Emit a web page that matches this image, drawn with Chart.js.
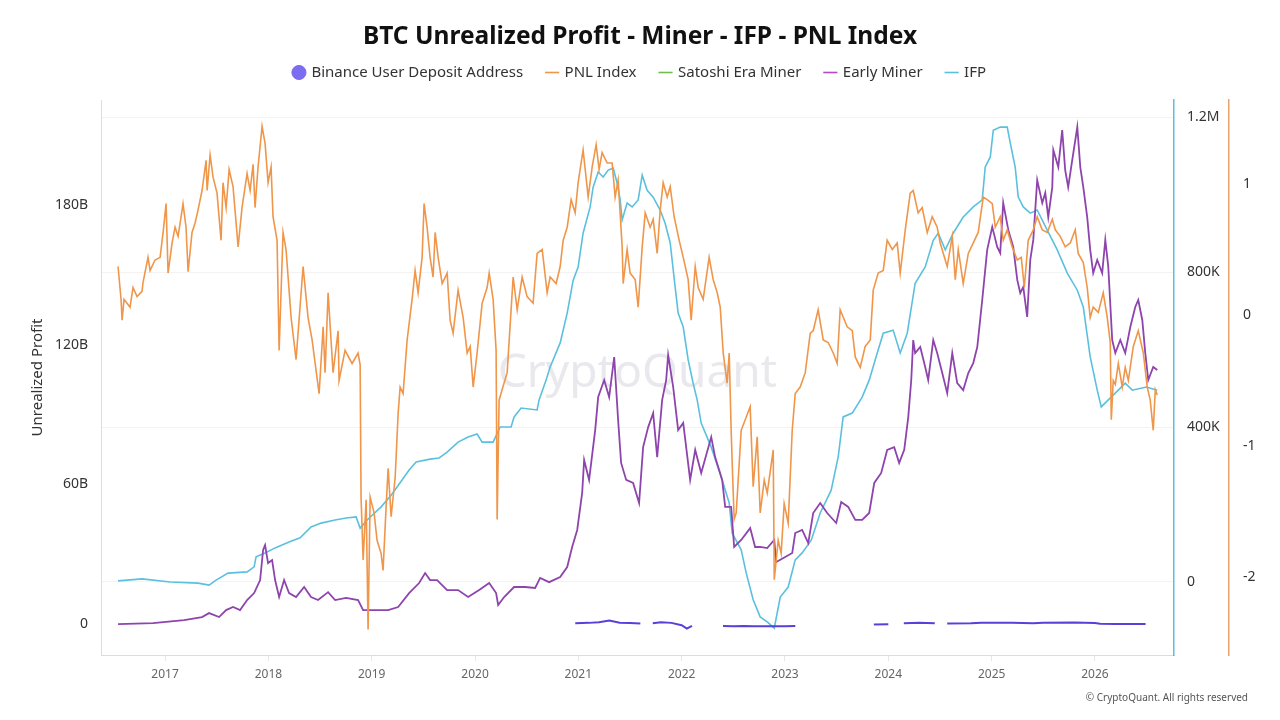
<!DOCTYPE html>
<html><head><meta charset="utf-8">
<script src="https://cdn.jsdelivr.net/npm/chart.js@4.4.1/dist/chart.umd.min.js"></script>
<style>html,body{margin:0;padding:0;background:#fff;}#wrap{width:1280px;height:720px;}</style>
</head><body><div id="wrap"><canvas id="c" width="1280" height="720"></canvas></div>
<script>
// ---- tick labels / categories ----
const yearTicks = [2017,2018,2019,2020,2021,2022,2023,2024,2025,2026];
const leftTicks = [0,60,120,180];          // billions
const ifpTicks = [0,400,800,1200];         // thousands
const pnlTicks = [-2,-1,0,1];
const seriesNames = ['Binance User Deposit Address','PNL Index','Satoshi Era Miner','Early Miner','IFP'];

// ---- PNL Index (right axis) ----
const pnlYears = [2016.545,2016.574,2016.584,2016.603,2016.661,2016.69,2016.729,2016.777,2016.787,2016.835,
2016.855,2016.903,2016.952,2016.981,2017.01,2017.029,2017.068,2017.097,2017.126,2017.165,
2017.174,2017.203,2017.223,2017.261,2017.29,2017.319,2017.358,2017.397,2017.407,2017.436,
2017.465,2017.503,2017.542,2017.561,2017.591,2017.62,2017.658,2017.707,2017.745,2017.794,
2017.823,2017.852,2017.871,2017.9,2017.939,2017.968,2017.997,2018.026,2018.045,2018.084,
2018.104,2018.142,2018.171,2018.22,2018.268,2018.336,2018.384,2018.423,2018.491,2018.53,
2018.549,2018.578,2018.626,2018.675,2018.684,2018.742,2018.81,2018.868,2018.888,2018.897,
2018.917,2018.946,2018.965,2018.985,2019.023,2019.052,2019.091,2019.11,2019.139,2019.159,
2019.188,2019.227,2019.256,2019.275,2019.304,2019.343,2019.391,2019.42,2019.449,2019.488,
2019.507,2019.536,2019.565,2019.594,2019.614,2019.643,2019.682,2019.73,2019.759,2019.788,
2019.836,2019.885,2019.924,2019.953,2019.982,2020.02,2020.069,2020.117,2020.137,2020.175,
2020.204,2020.214,2020.233,2020.262,2020.311,2020.369,2020.408,2020.456,2020.504,2020.562,
2020.601,2020.65,2020.698,2020.727,2020.785,2020.824,2020.853,2020.892,2020.93,2020.969,
2020.998,2021.046,2021.095,2021.134,2021.172,2021.201,2021.23,2021.279,2021.327,2021.356,
2021.385,2021.424,2021.434,2021.472,2021.501,2021.55,2021.579,2021.618,2021.647,2021.695,
2021.724,2021.763,2021.792,2021.821,2021.86,2021.889,2021.927,2021.976,2022.015,2022.063,
2022.092,2022.131,2022.16,2022.208,2022.266,2022.305,2022.344,2022.373,2022.402,2022.44,
2022.46,2022.479,2022.489,2022.508,2022.528,2022.576,2022.615,2022.663,2022.692,2022.731,
2022.76,2022.799,2022.828,2022.886,2022.896,2022.934,2022.963,2022.992,2023.031,2023.07,
2023.099,2023.147,2023.196,2023.244,2023.273,2023.321,2023.37,2023.418,2023.467,2023.505,
2023.534,2023.602,2023.651,2023.68,2023.728,2023.776,2023.825,2023.854,2023.902,2023.951,
2023.989,2024.038,2024.086,2024.115,2024.164,2024.212,2024.241,2024.289,2024.328,2024.377,
2024.425,2024.473,2024.502,2024.57,2024.619,2024.648,2024.677,2024.725,2024.774,2024.822,
2024.87,2024.919,2024.957,2025.006,2025.035,2025.083,2025.112,2025.151,2025.199,2025.248,
2025.287,2025.316,2025.354,2025.403,2025.441,2025.49,2025.538,2025.587,2025.616,2025.664,
2025.712,2025.761,2025.809,2025.838,2025.887,2025.925,2025.954,2025.983,2026.032,2026.08,
2026.119,2026.148,2026.158,2026.177,2026.197,2026.226,2026.264,2026.293,2026.323,2026.371,
2026.419,2026.468,2026.506,2026.535,2026.564,2026.584,2026.603];
const pnlValues = [0.37,0.12,-0.04,0.12,0.06,0.21,0.14,0.18,0.25,0.44,
0.34,0.42,0.44,0.63,0.85,0.32,0.55,0.67,0.6,0.8,
0.85,0.67,0.33,0.63,0.7,0.8,0.95,1.18,0.95,1.22,
1.05,0.93,0.57,1.01,0.82,1.11,0.98,0.52,0.82,1.08,
0.95,1.15,0.82,1.13,1.44,1.31,1.01,1.13,0.75,0.57,
-0.27,0.63,0.5,-0.02,-0.34,0.37,-0.02,-0.19,-0.6,-0.09,
-0.44,0.17,-0.44,-0.12,-0.5,-0.27,-0.37,-0.29,-0.38,-1.39,
-1.87,-1.41,-2.4,-1.39,-1.51,-1.72,-1.82,-1.95,-1.47,-1.17,
-1.54,-1.24,-0.75,-0.55,-0.6,-0.19,0.12,0.34,0.17,0.44,
0.85,0.67,0.44,0.29,0.63,0.44,0.24,0.32,-0.04,-0.14,
0.19,-0.02,-0.29,-0.24,-0.55,-0.29,0.09,0.21,0.32,0.12,
-0.27,-1.56,-0.65,-0.57,-0.44,0.29,0.04,0.29,0.14,0.09,
0.47,0.5,0.17,0.29,0.24,0.37,0.57,0.67,0.88,0.78,
1.01,1.26,0.9,1.13,1.3,1.11,1.24,1.16,1.16,0.9,
1.03,0.52,0.24,0.5,0.32,0.27,0.06,0.52,0.78,0.67,
0.73,0.47,0.8,1.01,0.9,0.98,0.75,0.57,0.44,0.27,
-0.04,0.37,0.21,0.12,0.44,0.27,0.17,0.06,-0.29,-0.52,
-0.29,-0.88,-1.13,-1.56,-1.51,-0.88,-0.8,-0.7,-1.31,-0.93,
-1.51,-1.26,-1.36,-1.03,-2.02,-1.72,-1.82,-1.44,-1.59,-0.88,
-0.6,-0.55,-0.44,-0.14,-0.12,0.04,-0.19,-0.21,-0.29,-0.37,
0.04,-0.09,-0.12,-0.32,-0.4,-0.24,-0.19,0.19,0.32,0.34,
0.57,0.5,0.55,0.32,0.65,0.93,0.95,0.78,0.82,0.63,
0.75,0.67,0.55,0.37,0.6,0.27,0.5,0.24,0.47,0.55,
0.63,0.9,0.88,0.85,0.67,0.75,0.57,0.65,0.52,0.42,
0.44,0.21,0.57,0.65,0.75,0.65,0.63,0.73,0.65,0.6,
0.52,0.55,0.65,0.47,0.4,0.21,-0.02,0.06,0.02,0.17,
-0.02,-0.21,-0.8,-0.5,-0.53,-0.37,-0.55,-0.4,-0.5,-0.24,
-0.12,-0.29,-0.55,-0.65,-0.88,-0.57,-0.61];

// ---- IFP (thousands, right axis) ----
const ifpYears = [2016.545,2016.777,2017.048,2017.319,2017.426,2017.494,2017.61,2017.794,2017.862,2017.881,
2017.968,2018.065,2018.2,2018.307,2018.413,2018.51,2018.646,2018.752,2018.849,2018.888,
2018.956,2019.091,2019.188,2019.294,2019.362,2019.43,2019.565,2019.652,2019.73,2019.836,
2019.933,2020.02,2020.069,2020.175,2020.243,2020.349,2020.378,2020.446,2020.601,2020.62,
2020.688,2020.727,2020.824,2020.892,2020.95,2020.998,2021.046,2021.114,2021.143,2021.192,
2021.24,2021.289,2021.337,2021.376,2021.405,2021.424,2021.472,2021.521,2021.579,2021.618,
2021.666,2021.724,2021.792,2021.84,2021.889,2021.937,2021.966,2022.015,2022.063,2022.111,
2022.15,2022.189,2022.286,2022.392,2022.46,2022.489,2022.576,2022.625,2022.692,2022.76,
2022.828,2022.896,2022.954,2023.031,2023.099,2023.166,2023.254,2023.341,2023.447,2023.515,
2023.563,2023.651,2023.747,2023.815,2023.893,2023.951,2024.047,2024.115,2024.183,2024.26,
2024.357,2024.435,2024.483,2024.551,2024.628,2024.725,2024.822,2024.909,2024.938,2024.987,
2025.016,2025.083,2025.151,2025.18,2025.228,2025.257,2025.306,2025.374,2025.441,2025.538,
2025.635,2025.732,2025.829,2025.887,2025.954,2026.022,2026.061,2026.129,2026.226,2026.293,
2026.361,2026.497,2026.603];
const ifpValues = [3,8,0,-3,-8,5,23,26,39,65,
75,88,103,114,142,152,160,165,168,139,
160,194,224,263,289,310,317,320,335,361,
374,382,361,361,400,400,426,449,444,470,
521,555,617,694,779,813,900,968,1019,1058,
1045,1063,1068,1029,986,934,978,968,986,1050,
1011,993,960,926,875,761,694,658,573,513,
470,410,348,263,204,126,83,23,-46,-90,
-103,-119,-39,-13,57,75,108,178,237,323,
426,436,477,521,591,642,650,591,642,771,
813,882,900,857,900,942,968,986,1071,1097,
1166,1174,1174,1133,1071,994,968,952,960,908,
857,797,753,710,581,495,452,470,495,513,
495,503,495];

// ---- Early Miner (billions, left axis) ----
const minerYears = [2016.545,2016.884,2017.184,2017.358,2017.426,2017.523,2017.591,2017.658,2017.726,2017.794,
2017.862,2017.92,2017.949,2017.968,2017.997,2018.036,2018.065,2018.104,2018.152,2018.2,
2018.268,2018.346,2018.413,2018.481,2018.578,2018.646,2018.752,2018.868,2018.917,2019.023,
2019.159,2019.256,2019.362,2019.459,2019.517,2019.565,2019.633,2019.73,2019.836,2019.933,
2020.04,2020.137,2020.204,2020.224,2020.282,2020.378,2020.485,2020.582,2020.63,2020.717,
2020.824,2020.892,2020.94,2020.989,2021.037,2021.056,2021.104,2021.163,2021.192,2021.25,
2021.298,2021.347,2021.385,2021.414,2021.463,2021.53,2021.588,2021.627,2021.676,2021.724,
2021.763,2021.811,2021.85,2021.869,2021.918,2021.966,2022.015,2022.082,2022.131,2022.189,
2022.286,2022.324,2022.392,2022.421,2022.479,2022.508,2022.576,2022.663,2022.711,2022.76,
2022.828,2022.896,2022.915,2023.002,2023.07,2023.099,2023.166,2023.225,2023.273,2023.341,
2023.408,2023.496,2023.544,2023.612,2023.68,2023.747,2023.815,2023.864,2023.931,2023.989,
2024.057,2024.105,2024.154,2024.193,2024.222,2024.241,2024.26,2024.309,2024.357,2024.386,
2024.435,2024.473,2024.522,2024.57,2024.619,2024.667,2024.725,2024.774,2024.822,2024.861,
2024.909,2024.957,2025.006,2025.054,2025.083,2025.112,2025.161,2025.209,2025.248,2025.277,
2025.306,2025.344,2025.374,2025.403,2025.441,2025.49,2025.519,2025.548,2025.587,2025.597,
2025.645,2025.683,2025.712,2025.741,2025.78,2025.829,2025.858,2025.887,2025.925,2025.954,
2025.983,2026.022,2026.07,2026.1,2026.129,2026.167,2026.197,2026.245,2026.293,2026.342,
2026.39,2026.419,2026.458,2026.487,2026.516,2026.564,2026.603];
const minerValues = [0,0.4,1.7,3.0,4.7,3.0,6.0,7.3,6.0,10.3,
13.3,18.9,31.8,33.9,26.2,27.5,18.9,11.6,18.9,13.3,
11.6,15.9,11.6,10.3,13.7,10.3,11.2,10.3,6.0,6.0,
6.0,7.3,13.3,17.6,21.9,18.9,18.9,14.6,14.6,11.6,
14.6,17.6,13.3,8.2,11.6,15.9,15.9,15.5,19.8,18.0,
20.2,24.5,33.1,40.4,56.3,70.5,61.9,83.3,97.5,104.8,
97.5,114.7,87.6,69.2,61.9,60.6,52.0,76.0,84.6,90.6,
71.7,96.2,104.8,115.6,101.8,83.3,86.4,61.9,74.8,64.9,
80.3,71.7,61.9,50.3,50.3,33.1,36.1,41.2,33.1,33.1,
32.6,36.1,26.6,28.8,30.5,39.1,40.4,34.8,47.7,52.0,
47.7,43.4,52.4,50.3,44.7,44.7,47.7,60.6,64.9,74.8,
76.0,69.2,74.8,88.9,104.8,122.0,116.4,119.0,110.4,104.8,
122.0,116.4,107.8,99.2,116.4,103.5,100.5,107.8,112.1,119.0,
139.2,160.7,170.6,162.0,159.4,180.9,169.3,162.0,147.8,142.2,
144.8,131.9,156.4,165.0,190.7,180.9,185.2,174.8,187.7,203.6,
196.3,212.2,195.0,187.7,199.3,213.5,196.3,187.7,174.8,160.7,
150.8,156.4,150.8,165.0,153.4,122.0,116.4,122.0,116.4,127.6,
136.2,139.2,130.6,116.4,104.8,110.4,109.1];

// ---- Binance User Deposit Address (billions, left axis; null = gap) ----
const binanceYears = [2020.97,2021.1,2021.2,2021.3,2021.4,2021.5,2021.6,2021.65,2021.72,2021.8,
2021.9,2022.0,2022.05,2022.1,2022.15,2022.4,2022.5,2022.6,2022.7,2022.8,
2022.9,2023.0,2023.1,2023.12,2023.86,2024.0,2024.1,2024.15,2024.3,2024.45,
2024.5,2024.57,2024.8,2024.9,2025.2,2025.4,2025.5,2025.8,2026.0,2026.05,
2026.2,2026.49];
const binanceValues = [0.3,0.5,0.8,1.5,0.6,0.4,0.2,null,0.3,0.8,
0.5,-0.5,-2.0,-0.8,null,-0.8,-0.9,-0.8,-1.0,-0.9,
-1.0,-0.9,-0.8,null,-0.2,-0.1,null,0.3,0.5,0.3,
null,0.2,0.3,0.5,0.6,0.3,0.6,0.7,0.4,0.1,
0.0,0.0];

// ---- Satoshi Era Miner (no visible data) ----
const satoshiYears = [];
const satoshiValues = [];

const pts = (xs, ys) => xs.map((x, i) => ({x: x, y: ys[i]}));
const FONT = "'Noto Sans', 'Open Sans', sans-serif";

const watermark = {
  id: 'watermark',
  beforeDatasetsDraw(chart) {
    const {ctx, chartArea: a} = chart;
    ctx.save();
    ctx.font = "46px " + FONT;
    ctx.fillStyle = 'rgba(205,205,215,0.45)';
    ctx.textAlign = 'center'; ctx.textBaseline = 'middle';
    ctx.fillText('CryptoQuant', (a.left + a.right) / 2, (a.top + a.bottom) / 2 - 4);
    ctx.restore();
  },
  afterDraw(chart) {
    const ctx = chart.ctx;
    ctx.save();
    ctx.font = "10px " + FONT;
    ctx.fillStyle = '#555';
    ctx.textAlign = 'right'; ctx.textBaseline = 'middle';
    ctx.fillText('\u00A9 CryptoQuant. All rights reserved', 1248, 698);
    ctx.restore();
  }
};
const legendHeight = {
  id: 'legendHeight',
  beforeInit(chart) {
    const orig = chart.legend.fit;
    chart.legend.fit = function () { orig.call(this); this.height = 59; };
  }
};

new Chart(document.getElementById('c'), {
  type: 'line',
  data: {
    datasets: [
      {label: seriesNames[0], data: pts(binanceYears, binanceValues), yAxisID: 'y', borderColor: '#5a3fd8', backgroundColor: '#7b6cf0', borderWidth: 2, pointStyle: 'circle', spanGaps: false},
      {label: seriesNames[1], data: pts(pnlYears, pnlValues), yAxisID: 'y2', borderColor: '#f0964a', backgroundColor: '#f0964a', borderWidth: 1.6, pointStyle: 'line'},
      {label: seriesNames[2], data: pts(satoshiYears, satoshiValues), yAxisID: 'y', borderColor: '#6cc04a', backgroundColor: '#6cc04a', borderWidth: 1.6, pointStyle: 'line'},
      {label: seriesNames[3], data: pts(minerYears, minerValues), yAxisID: 'y', borderColor: '#8e44ad', backgroundColor: '#b04cc8', borderWidth: 1.8, pointStyle: 'line'},
      {label: seriesNames[4], data: pts(ifpYears, ifpValues), yAxisID: 'y1', borderColor: '#5bc0de', backgroundColor: '#5bc0de', borderWidth: 1.6, pointStyle: 'line'}
    ]
  },
  options: {
    responsive: false,
    animation: false,
    devicePixelRatio: 1,
    layout: {padding: {top: 0, left: 0, right: 0, bottom: 0}},
    elements: {point: {radius: 0, hoverRadius: 0}, line: {tension: 0}},
    plugins: {
      tooltip: {enabled: false},
      title: {display: true, text: 'BTC Unrealized Profit - Miner - IFP - PNL Index', color: '#111',
        font: {family: FONT, size: 24.5, weight: 'bold'}, padding: {top: 22.3, bottom: -10.7}},
      legend: {display: true, position: 'top', align: 'center',
        labels: {usePointStyle: true, boxHeight: 10, boxWidth: 10, padding: 24, color: '#333',
          font: {family: FONT, size: 15},
          generateLabels(chart) {
            const items = Chart.defaults.plugins.legend.labels.generateLabels(chart);
            items.forEach((it, i) => {
              if (i === 0) { it.fillStyle = '#7b6cf0'; it.strokeStyle = '#7b6cf0'; it.lineWidth = 1; }
              else { it.lineWidth = 1.6; it.strokeStyle = ['', '#f0964a', '#6cc04a', '#b04cc8', '#5bc0de'][i]; }
            });
            return items;
          }}}
    },
    scales: {
      x: {type: 'linear', position: 'bottom', min: 2016.38, max: 2026.765,
        afterBuildTicks: s => { s.ticks = yearTicks.map(v => ({value: v})); },
        afterFit: s => { s.height = 65; },
        ticks: {color: '#666', font: {family: FONT, size: 12}, maxRotation: 0, autoSkip: false, padding: 6, callback: v => String(v)},
        grid: {display: true, drawOnChartArea: false, drawTicks: true, tickLength: 6, color: '#e6e6e6'},
        border: {display: true, color: '#dcdcdc'}},
      y: {position: 'left', min: -13.3, max: 225.1,
        afterBuildTicks: s => { s.ticks = leftTicks.map(v => ({value: v})); },
        afterFit: s => { s.width = 101; },
        ticks: {color: '#333', font: {family: FONT, size: 14}, padding: 13, callback: v => v === 0 ? '0' : v + 'B'},
        grid: {display: false, drawTicks: false},
        border: {display: true, color: '#dddddd'},
        title: {display: true, text: 'Unrealized Profit', color: '#333', font: {family: FONT, size: 15}, padding: {top: 29, bottom: 0}}},
      y1: {position: 'right', min: -188.4, max: 1243.9,
        afterBuildTicks: s => { s.ticks = ifpTicks.map(v => ({value: v})); },
        afterFit: s => { s.width = 55; },
        ticks: {color: '#333', font: {family: FONT, size: 14}, padding: 13, callback: v => v === 0 ? '0' : (v >= 1000 ? (v / 1000) + 'M' : v + 'K')},
        grid: {display: true, drawOnChartArea: true, drawTicks: false, color: '#f3f3f3'},
        border: {display: true, color: '#5bc0de', width: 1.5}},
      y2: {position: 'right', min: -2.595, max: 1.641,
        afterBuildTicks: s => { s.ticks = pnlTicks.map(v => ({value: v})); },
        afterFit: s => { s.width = 51; },
        ticks: {color: '#333', font: {family: FONT, size: 14}, padding: 14, callback: v => String(v)},
        grid: {display: false, drawTicks: false},
        border: {display: true, color: '#e8a36a', width: 1.5}}
    }
  },
  plugins: [watermark, legendHeight]
});
</script>
</body></html>
